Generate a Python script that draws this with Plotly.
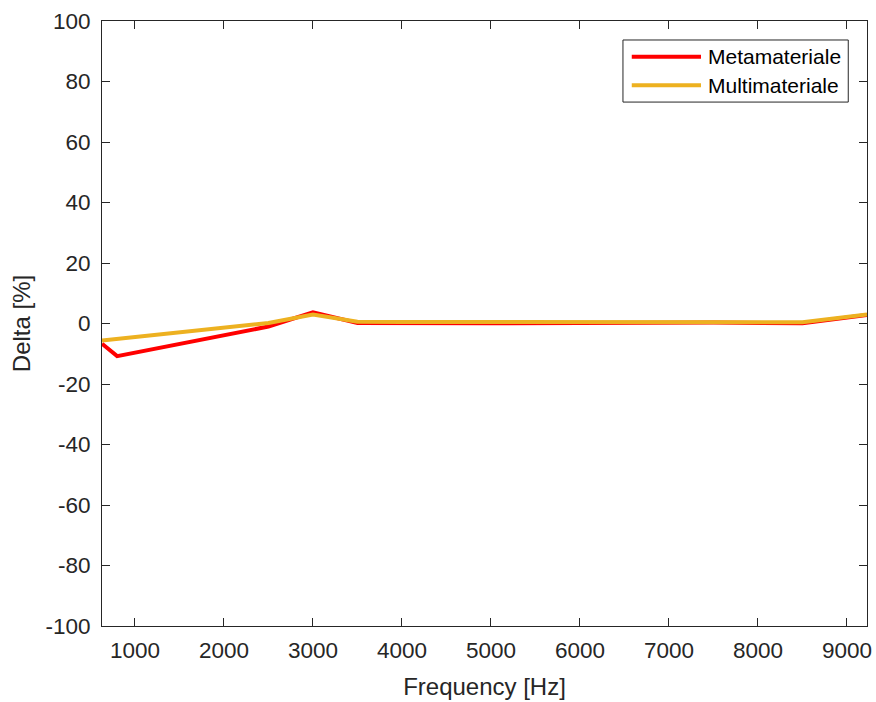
import plotly.graph_objects as go

freq = [630, 800, 2500, 3000, 3500, 4000, 5000, 6000, 7000, 7500, 8500, 9225]
meta = [-6.7, -10.8, -1.0, 3.7, 0.2, 0.1, 0.1, 0.2, 0.3, 0.3, 0.1, 2.8]
multi = [-5.6, -5.1, 0.2, 3.0, 0.6, 0.5, 0.5, 0.6, 0.7, 0.7, 0.4, 3.0]
names = ["Metamateriale", "Multimateriale"]
colors = ["#FF0000", "#EDB120"]
xticks = list(range(1000, 10000, 1000))
yticks = list(range(-100, 101, 20))

FONT = "Liberation Sans, Arial, sans-serif"
AX = "#262626"

fig = go.Figure()
for ys, nm, c in zip([meta, multi], names, colors):
    fig.add_trace(go.Scatter(x=freq, y=ys, mode="lines", name=nm,
                             line=dict(color=c, width=4), showlegend=False))

axcommon = dict(showline=True, linecolor=AX, linewidth=1, mirror="ticks",
                ticks="inside", ticklen=8, tickcolor=AX, showgrid=False,
                zeroline=False, automargin=False,
                tickfont=dict(family=FONT, size=22.5, color=AX))
fig.update_xaxes(range=[630, 9225], tickvals=xticks, ticktext=[str(v) for v in xticks],
                 ticklabelstandoff=4,
                 title=dict(text="Frequency [Hz]", font=dict(family=FONT, size=24, color=AX), standoff=16),
                 **axcommon)
fig.update_yaxes(range=[-100, 100], tickvals=yticks, ticktext=[str(v) for v in yticks],
                 ticklabelstandoff=6,
                 title=dict(text="Delta [%]", font=dict(family=FONT, size=24, color=AX), standoff=8),
                 **axcommon)

# manual legend
lx0, lx1, ly0, ly1 = 0.681, 0.9755, 0.866, 0.9686
fig.add_shape(type="rect", xref="paper", yref="paper", x0=lx0, x1=lx1, y0=ly0, y1=ly1,
              line=dict(color=AX, width=1), fillcolor="white", layer="above")
for yy, nm, c in zip([0.941, 0.894], names, colors):
    fig.add_shape(type="line", xref="paper", yref="paper", x0=0.6925, x1=0.783, y0=yy, y1=yy,
                  line=dict(color=c, width=4), layer="above")
    fig.add_annotation(xref="paper", yref="paper", x=0.789, y=yy, text=nm, showarrow=False,
                       xanchor="left", yanchor="middle",
                       font=dict(family=FONT, size=21, color="#000000"))

fig.update_layout(width=876, height=702, margin=dict(l=102, r=9, t=21, b=76),
                  plot_bgcolor="white", paper_bgcolor="white", showlegend=False)
fig.write_html("out.html")
